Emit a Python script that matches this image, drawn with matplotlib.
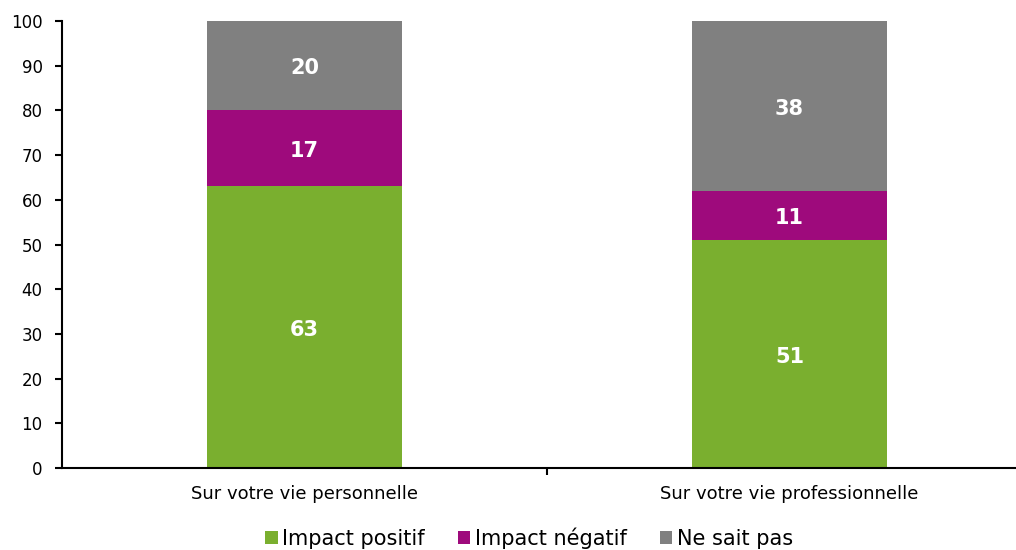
import matplotlib
matplotlib.use("Agg")
import matplotlib.pyplot as plt
from matplotlib.patches import Patch

categories = ["Sur votre vie personnelle", "Sur votre vie professionnelle"]
positif = [63, 51]
negatif = [17, 11]
nsp = [20, 38]
series_names = ["Impact positif", "Impact négatif", "Ne sait pas"]
colors = ["#7aaf2f", "#9e0a7c", "#808080"]

plt.rcParams['font.family'] = ['Verdana', 'DejaVu Sans']

fig = plt.figure(figsize=(10.16, 5.5), dpi=100)
ax = fig.add_axes([62/1016, 1-468/550, 970/1016, 447/550])

x = list(range(len(categories)))
w = 0.402
bottoms = [0]*len(x)
for vals, col in zip([positif, negatif, nsp], colors):
    ax.bar(x, vals, width=w, bottom=bottoms, color=col, edgecolor='none', zorder=2)
    for xi, v, b in zip(x, vals, bottoms):
        ax.text(xi, b + v/2 - 0.6, str(v), ha='center', va='center', color='white',
                fontsize=15, fontweight='bold', zorder=3)
    bottoms = [b + v for b, v in zip(bottoms, vals)]

ax.set_xlim(-0.5, 1.5)
ax.set_ylim(0, 100)
ax.set_yticks(range(0, 101, 10))
ax.tick_params(axis='y', labelsize=12, length=5, width=1.5, direction='out', pad=9, colors='black')
ax.set_xticks([0.5], minor=False)
ax.set_xticklabels([''])
ax.tick_params(axis='x', length=5, width=1.5, direction='out')
for xi, c in zip(x, categories):
    ax.text(xi, -3.8, c, ha='center', va='top', fontsize=13, transform=ax.transData)

for s in ['top', 'right']:
    ax.spines[s].set_visible(False)
for s in ['left', 'bottom']:
    ax.spines[s].set_linewidth(1.5)

handles = [Patch(facecolor=c, edgecolor='none') for c in colors]
fig.legend(handles, series_names, loc='center', bbox_to_anchor=(529/1016, 1-538/550),
           ncol=3, frameon=False, fontsize=15, handlelength=0.6, handleheight=0.6,
           handletextpad=0.2, columnspacing=1.6)

fig.savefig("out.png", dpi=100)
